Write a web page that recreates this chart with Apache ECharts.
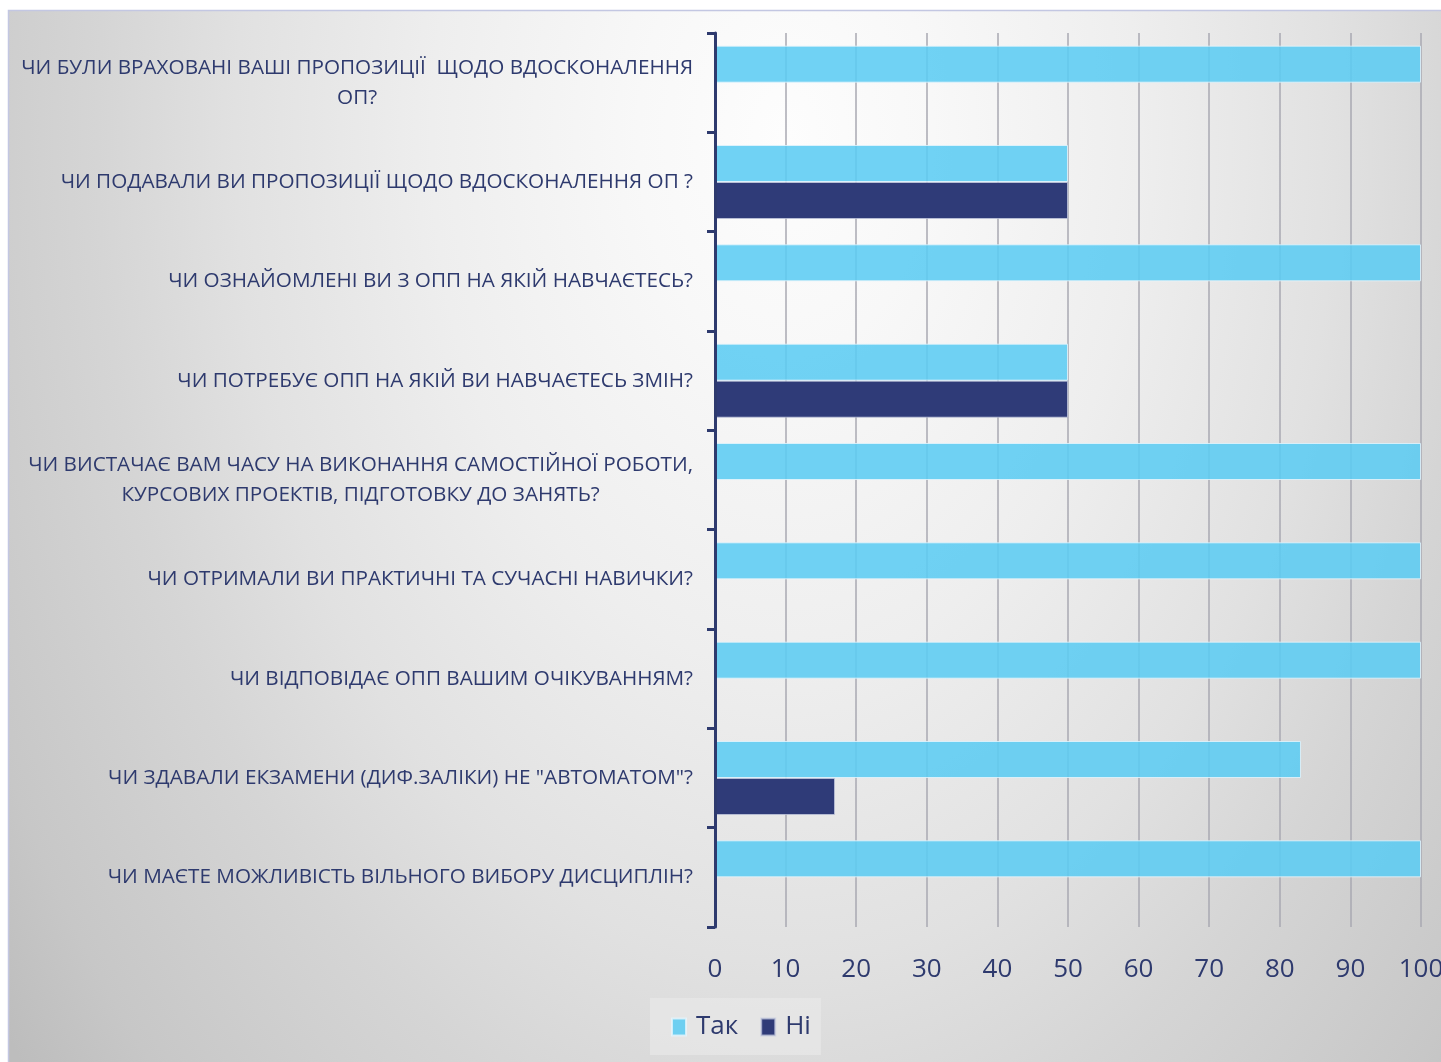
<!DOCTYPE html>
<html>
<head>
<meta charset="utf-8">
<script src="https://cdn.jsdelivr.net/npm/echarts@6/dist/echarts.min.js"></script>
<style>html,body{margin:0;padding:0;background:#fff;overflow:hidden;}#c{width:1441px;height:1062px;}</style>
</head>
<body>
<div id="c"></div>
<script>
const categories = [
  'ЧИ БУЛИ ВРАХОВАНІ ВАШІ ПРОПОЗИЦІЇ  ЩОДО ВДОСКОНАЛЕННЯ\nОП?',
  'ЧИ ПОДАВАЛИ ВИ ПРОПОЗИЦІЇ ЩОДО ВДОСКОНАЛЕННЯ ОП ?',
  'ЧИ ОЗНАЙОМЛЕНІ ВИ З ОПП НА ЯКІЙ НАВЧАЄТЕСЬ?',
  'ЧИ ПОТРЕБУЄ ОПП НА ЯКІЙ ВИ НАВЧАЄТЕСЬ ЗМІН?',
  'ЧИ ВИСТАЧАЄ ВАМ ЧАСУ НА ВИКОНАННЯ САМОСТІЙНОЇ РОБОТИ,\nКУРСОВИХ ПРОЕКТІВ, ПІДГОТОВКУ ДО ЗАНЯТЬ?',
  'ЧИ ОТРИМАЛИ ВИ ПРАКТИЧНІ ТА СУЧАСНІ НАВИЧКИ?',
  'ЧИ ВІДПОВІДАЄ ОПП ВАШИМ ОЧІКУВАННЯМ?',
  'ЧИ ЗДАВАЛИ ЕКЗАМЕНИ (ДИФ.ЗАЛІКИ) НЕ "АВТОМАТОМ"?',
  'ЧИ МАЄТЕ МОЖЛИВІСТЬ ВІЛЬНОГО ВИБОРУ ДИСЦИПЛІН?'
];
const seriesNames = ['Так', 'Ні'];
const yesValues = [100, 50, 100, 50, 100, 100, 100, 83, 100];
const noValues  = [0, 50, 0, 50, 0, 0, 0, 17, 0];

const navy = '#2e3a6e';
const chart = echarts.init(document.getElementById('c'), null, {renderer: 'canvas'});
chart.setOption({
  animation: false,
  textStyle: {fontFamily: 'Open Sans'},
  graphic: [{
    type: 'rect', z: -10, silent: true,
    x: 8, y: 10, scaleY: 1.5,
    shape: {x: 0, y: 0, width: 1440, height: 702},
    style: {
      fill: new echarts.graphic.RadialGradient(0.54, 0.12, 1.4, [
        {offset: 0, color: '#fdfdfd'},
        {offset: 0.15, color: '#f8f8f8'},
        {offset: 0.36, color: '#eeeeee'},
        {offset: 0.56, color: '#e1e1e1'},
        {offset: 0.7, color: '#d5d5d5'},
        {offset: 0.9, color: '#c7c7c7'},
        {offset: 1, color: '#bdbdbd'}
      ]),
      stroke: null
    }
  }, {
    type: 'polyline', z: -9, silent: true,
    shape: {points: [[8.5, 1062], [8.5, 10.5], [1441, 10.5]]},
    style: {stroke: '#c3c7e2', lineWidth: 1.5, fill: null}
  }],
  grid: {left: 715, right: 20, top: 33, bottom: 135, containLabel: false, outerBoundsMode: 'none'},
  legend: {
    data: seriesNames,
    left: 650, top: 998,
    padding: [16, 10, 15, 21],
    backgroundColor: 'rgba(232,232,232,0.7)',
    icon: 'rect',
    itemWidth: 14, itemHeight: 17, itemGap: 22,
    formatter: function (n) { return '{t|' + n + '}'; },
    textStyle: {fontSize: 26, color: navy, fontFamily: 'Open Sans',
      rich: {t: {fontSize: 26, color: navy, fontFamily: 'Open Sans', padding: [0, 0, 0, 5]}}}
  },
  xAxis: {
    type: 'value', min: 0, max: 100, interval: 10,
    axisLine: {show: false},
    axisTick: {show: false},
    splitLine: {show: true, lineStyle: {color: '#a9a9b2', width: 1.5}},
    axisLabel: {fontSize: 26, color: navy, margin: 30, fontFamily: 'Open Sans'}
  },
  yAxis: {
    type: 'category', data: categories, inverse: true, z: 5,
    axisLine: {show: true, lineStyle: {color: navy, width: 3}},
    axisTick: {show: true, length: 8, lineStyle: {color: navy, width: 3}},
    axisLabel: {
      margin: 22, color: navy, fontSize: 20.7, fontFamily: 'Open Sans',
      formatter: function (v) {
        return v.split('\n').map(function (l) { return '{c|' + l + '}'; }).join('\n');
      },
      rich: {c: {align: 'center', fontSize: 20.7, color: navy, fontFamily: 'Open Sans', lineHeight: 30}}
    }
  },
  series: [
    {
      name: seriesNames[0], type: 'bar', data: yesValues, barWidth: 37, barGap: '0%',
      itemStyle: {color: 'rgba(92,204,242,0.88)', borderColor: 'rgba(230,245,252,0.8)', borderWidth: 1}
    },
    {
      name: seriesNames[1], type: 'bar', data: noValues, barWidth: 37, barGap: '0%',
      itemStyle: {color: '#2f3b78', borderColor: 'rgba(200,205,225,0.7)', borderWidth: 1}
    }
  ]
});
</script>
</body>
</html>
